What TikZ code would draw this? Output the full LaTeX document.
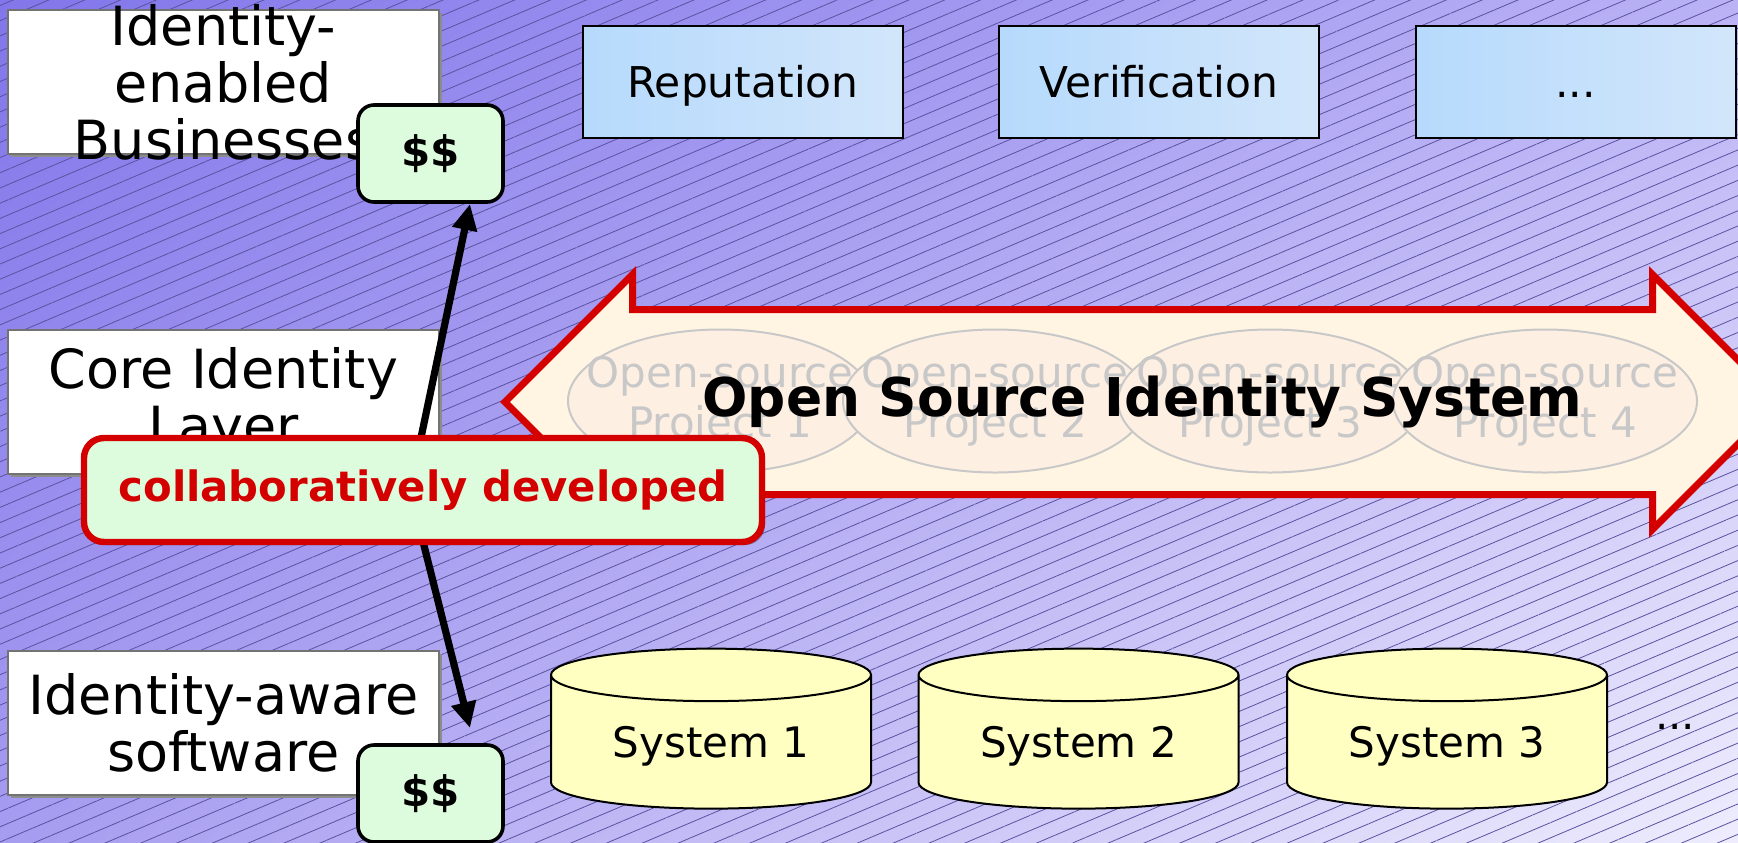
\documentclass[tikz,border=0pt]{standalone}
\usepackage{fontspec}
\setmainfont{DejaVu Sans}
\usepackage{tikz}
\usetikzlibrary{shapes.geometric,shapes.arrows,shadows,shadings,arrows.meta,patterns.meta}
\definecolor{bgtl}{HTML}{8276EA}
\definecolor{bgtr}{HTML}{BAB2F5}
\definecolor{bgbl}{HTML}{A69CF0}
\definecolor{bgbr}{HTML}{EEECFD}
\definecolor{hatch}{HTML}{5A52A0}
\definecolor{alert}{HTML}{D40000}
\definecolor{mint}{HTML}{DDFBDD}
\definecolor{cream}{HTML}{FFF5E2}
\definecolor{peach}{HTML}{FEEFE3}
\definecolor{ghost}{HTML}{C8C8C8}
\definecolor{skyL}{HTML}{B6DAFC}
\definecolor{skyR}{HTML}{D2E6FB}
\definecolor{drumfill}{HTML}{FFFFC2}
\tikzset{
  tier/.style={draw=black!55, fill=white, line width=1pt, minimum width=215.5pt, minimum height=72pt,
    drop shadow={shadow xshift=1.5pt, shadow yshift=-1.5pt, fill=black!45, opacity=1}},
  tiertext/.style={font=\fontsize{27}{28.5}\selectfont, align=center, inner sep=0pt},
  service/.style={draw=black, line width=1pt, left color=skyL, right color=skyR,
    minimum width=160pt, minimum height=56pt, text height=15.5pt, text depth=0pt,
    font=\fontsize{21.2}{25}\selectfont},
  cash/.style={draw=black, fill=mint, line width=1.8pt, rounded corners=8pt,
    minimum width=72.5pt, minimum height=48.5pt, font=\fontsize{21}{24}\selectfont\bfseries},
  cashflow/.style={-{Triangle[length=13pt,width=12pt]}, line width=3.6pt},
  collab/.style={draw=alert, fill=mint, line width=3.2pt, rounded corners=10pt,
    minimum width=339pt, minimum height=52pt, text=alert, font=\fontsize{20.9}{24}\selectfont\bfseries,
    drop shadow={shadow xshift=1.5pt, shadow yshift=-1.5pt, fill=black, opacity=.35}},
  bigarrow/.style={double arrow, draw=alert, fill=cream, line width=3.5pt, inner xsep=0pt,
    inner ysep=44.5pt, minimum height=637.5pt, double arrow head extend=17.5pt},
  project/.style={ellipse, draw=ghost, line width=1pt, fill=peach, inner sep=0pt,
    minimum width=152pt, minimum height=71.5pt},
  projtext/.style={text=ghost, align=center, inner sep=0pt, font=\fontsize{21}{25}\selectfont},
  headline/.style={font=\fontsize{26.7}{30}\selectfont\bfseries},
  drum/.style={cylinder, shape border rotate=90, aspect=0.25, draw=black, line width=1pt,
    fill=drumfill, minimum width=160pt, minimum height=80pt, font=\fontsize{21}{25}\selectfont}
}

\begin{document}
\begin{tikzpicture}[x=0.5pt, y=-0.5pt]
    % --- BACKGROUND ---
    \path[use as bounding box] (0,0) rectangle (1738,842);
    \clip (0,0) rectangle (1738,842);
    \shade[upper left=bgtl, upper right=bgtr, lower left=bgbl, lower right=bgbr] (0,0) rectangle (1738,842);
    \fill[pattern={Lines[angle=23, distance=7pt, line width=0.4pt]}, pattern color=hatch, fill opacity=.14]
        (0,0) rectangle (1738,842);

    % --- LEFT COLUMN ---
    \node[tier] (biz) at (223.5,82) {};
    \node[tiertext] (biztext) at (biz) {Identity-\\enabled\\Businesses};
    \node[tier] (core) at (223.5,402) {};
    \node[tiertext] (coretext) at (core) {Core Identity\\Layer};
    \node[tier] (aware) at (223.5,722.5) {};
    \node[tiertext] (awaretext) at (aware) {Identity-aware\\software};

    % --- SERVICES ---
    \node[service] (rep) at (743,82) {Reputation};
    \node[service] (ver) at (1159,82) {Verification};
    \node[service] (more) at (1575.5,82) {...};

    % --- OPEN SOURCE ARROW ---
    \node[bigarrow] (osis) at (1142.5,402) {};
    \foreach \i/\x in {1/720, 2/995, 3/1270, 4/1545} {
        \node[project] (proj\i) at (\x,401) {};
        \node[projtext] (projtext\i) at (proj\i) {Open-source\\Project \i};
    }
    \node[headline] (osistitle) at (osis.center) {Open Source Identity System};

    % --- SYSTEMS ---
    \node[drum] (sys1) at (711,746) {System 1};
    \node[drum] (sys2) at (1078.5,746) {System 2};
    \node[drum] (sys3) at (1447,746) {System 3};
    \node[font=\fontsize{21}{25}\selectfont] (sysmore) at (1675,727) {...};

    % --- MONEY ---
    \node[cash] (topcash) at (430.5,153.5) {\$\$};
    \node[cash] (botcash) at (430.5,793.5) {\$\$};
    \coordinate (hub) at (410,490);
    \coordinate (upcash) at (470,204);
    \coordinate (downcash) at (470,728);
    \draw[cashflow] (hub) -- (upcash);
    \draw[cashflow] (hub) -- (downcash);
    \node[collab] (collab) at (423,490) {collaboratively developed};
\end{tikzpicture}
\end{document}
